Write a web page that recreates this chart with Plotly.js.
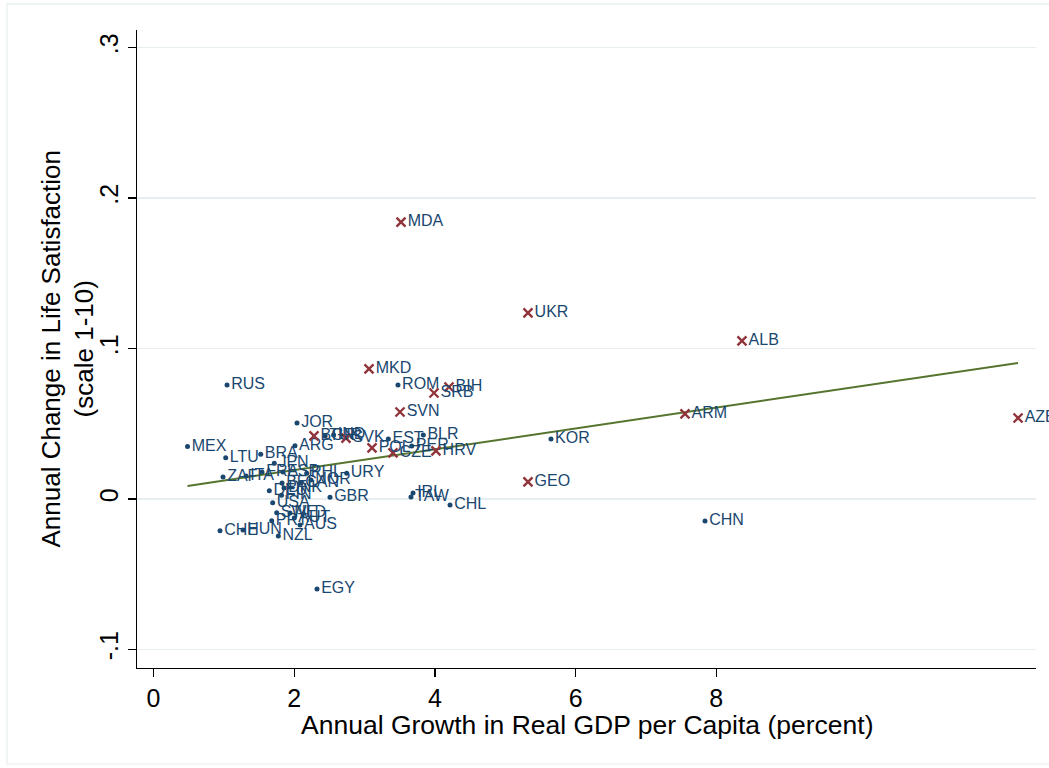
<!DOCTYPE html>
<html>
<head>
<meta charset="utf-8">
<script src="https://cdn.plot.ly/plotly-3.0.1.min.js"></script>
<style>
html,body{margin:0;padding:0;overflow:hidden;background:#fff;}
#chart{width:1049px;height:768px;}
</style>
</head>
<body>
<div id="chart"></div>
<script>
// Countries shown with dots
const dotCodes = ["RUS","ROM","JOR","KOR","MEX","ARG","LTU","BRA","JPN","EST","BLR","PER","ZAF","ITA","FRA","ESP","PHL","URY","BEL","CAN","NOR","DEU","DNK","FIN","USA","GBR","SWE","NLD","PRT","AUT","AUS","CHE","HUN","NZL","EGY","IRL","TAW","CHL","CHN","TUR","IND"];
const dotGrowth = [1.045,3.475,2.04,5.65,0.483,2.011,1.026,1.524,1.717,3.338,3.835,3.67,0.988,1.315,1.542,1.84,2.178,2.746,1.827,2.097,2.239,1.646,1.855,1.82,1.694,2.509,1.751,1.94,1.68,2.0,2.082,0.945,1.272,1.774,2.324,3.689,3.66,4.215,7.84,2.44,2.56];
const dotChange = [0.0757,0.0757,0.0505,0.0399,0.0348,0.0354,0.0274,0.0297,0.0237,0.0399,0.0425,0.0352,0.0146,0.0153,0.0179,0.0179,0.0171,0.0171,0.0106,0.0106,0.0126,0.0055,0.0073,0.0025,-0.0025,0.0011,-0.0091,-0.0093,-0.0144,-0.0126,-0.0173,-0.0211,-0.0206,-0.0246,-0.0598,0.0040,0.0013,-0.0040,-0.0146,0.0419,0.0425];

// Countries shown with crosses
const crossCodes = ["MDA","UKR","ALB","MKD","BIH","SRB","SVN","ARM","AZE","GEO","HRV","CZE","POL","SVK","BGR"];
const crossGrowth = [3.518,5.323,8.365,3.063,4.2,3.987,3.504,7.555,12.29,5.323,4.015,3.404,3.106,2.736,2.281];
const crossChange = [0.184,0.1236,0.105,0.0864,0.0744,0.0704,0.0578,0.0565,0.0538,0.0113,0.0319,0.0306,0.0339,0.0405,0.0419];

// Fitted line coefficients
const fitIntercept = 0.00535;
const fitSlope = 0.00692;

const xTicks = [0,2,4,6,8];
const xTickText = ["0","2","4","6","8"];
const yTicks = [0.3,0.2,0.1,0,-0.1];
const yTickText = [".3",".2",".1","0","-.1"];

const xTitle = "Annual Growth in Real GDP per Capita (percent)";
const yTitle = "Annual Change in Life Satisfaction<br>(scale 1-10)";
const topTitle = "(WVS panel, min 5 years, max 26 years)";

const navy = "#1a476f";
const maroon = "#90353b";
const green = "#55752f";

const allX = dotGrowth.concat(crossGrowth);
const xmin = Math.min(...allX), xmax = Math.max(...allX);

const sans = "Liberation Sans, Arial, Helvetica, sans-serif";
const labelFont = {family:sans, size:16, color:navy};

const traces = [
  {
    x:[xmin,xmax], y:[fitIntercept+fitSlope*xmin, fitIntercept+fitSlope*xmax],
    mode:"lines", line:{color:green,width:2}, hoverinfo:"skip", showlegend:false
  },
  {
    x:dotGrowth, y:dotChange, text:dotCodes, mode:"markers+text",
    textposition:"middle right", textfont:labelFont,
    marker:{symbol:"circle", size:5, color:navy}, showlegend:false, cliponaxis:false
  },
  {
    x:crossGrowth, y:crossChange, text:crossCodes, mode:"markers+text",
    textposition:"middle right", textfont:labelFont,
    marker:{symbol:"x-thin", size:9, line:{color:maroon,width:2.4}, color:maroon}, showlegend:false, cliponaxis:false
  }
];

const layout = {
  width:1049, height:768,
  margin:{l:137, r:13, t:30, b:100},
  paper_bgcolor:"#ffffff", plot_bgcolor:"#ffffff",
  font:{family:sans, color:"#000"},
  showlegend:false,
  xaxis:{
    range:[-0.235,12.545], tickvals:xTicks, ticktext:xTickText,
    showgrid:false, zeroline:false, showline:true, linecolor:"#000", linewidth:1.2,
    ticks:"outside", ticklen:8, tickcolor:"#000", tickwidth:1.2,
    tickfont:{size:25, color:"#000"}
  },
  yaxis:{
    range:[-0.1123,0.3116], tickvals:yTicks, ticktext:yTickText,
    showgrid:true, gridcolor:"#e6eef1", gridwidth:1.2, zeroline:false,
    showline:true, linecolor:"#000", linewidth:1.2,
    ticks:"outside", ticklen:8, tickcolor:"#000", tickwidth:1.2,
    tickangle:-90, tickfont:{size:25, color:"#000"}
  },
  shapes:[
    {type:"rect", xref:"paper", yref:"paper", x0:-0.1446, x1:1.2, y0:-0.1505, y1:1.0408,
     line:{color:"#e6eef1", width:1.2}, fillcolor:"rgba(0,0,0,0)", layer:"below"}
  ],
  annotations:[
    {text:topTitle, xref:"paper", yref:"paper",
     x:0.1424, y:1.042, xanchor:"center", yanchor:"bottom", showarrow:false,
     font:{family:"Liberation Serif, Times New Roman, serif", size:18, color:"#000"}},
    {text:xTitle, xref:"paper", yref:"paper", x:0.5, y:-0.0895, xanchor:"center", yanchor:"middle",
     showarrow:false, font:{family:sans, size:26.5, color:"#000"}},
    {text:yTitle, xref:"paper", yref:"paper", x:-0.0773, y:0.5, xanchor:"center", yanchor:"middle",
     textangle:-90, showarrow:false, font:{family:sans, size:26, color:"#000"}}
  ]
};

Plotly.newPlot("chart", traces, layout, {displayModeBar:false, staticPlot:true});
</script>
</body>
</html>
